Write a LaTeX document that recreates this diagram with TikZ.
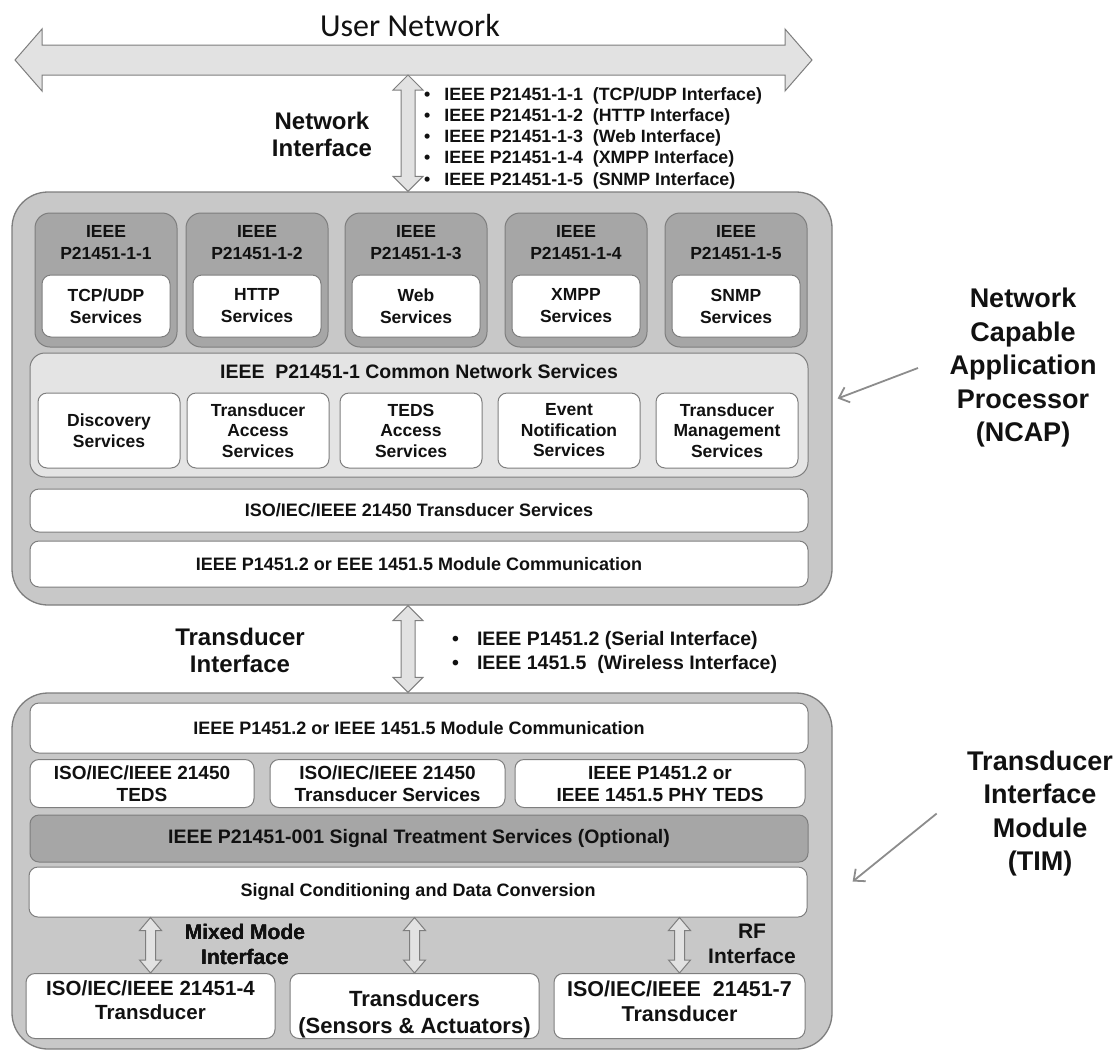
\documentclass[tikz,border=0pt]{standalone}
\usepackage{fontspec}
\setmainfont{Liberation Sans}
\newfontfamily\userfont{Carlito}
\usetikzlibrary{arrows.meta,calc}
\definecolor{ieeeink}{HTML}{111111}
\definecolor{ieeeedge}{HTML}{7E7E7E}
\definecolor{ieeeshell}{HTML}{C8C8C8}
\definecolor{ieeeproto}{HTML}{A6A6A6}
\definecolor{ieeecommon}{HTML}{E4E4E4}
\definecolor{ieeearrow}{HTML}{E2E2E2}
\definecolor{ieeepoint}{HTML}{8C8C8C}
% hollow block arrow, vertical: top, bottom, half shaft, half head, head length
\newcommand{\vfat}[5]{%
  \draw[fat] let \p1=(#1), \p2=(#2) in
    (\x1,\y1) -- (\x1+#4,\y1-#5) -- (\x1+#3,\y1-#5) -- (\x1+#3,\y2+#5)
    -- (\x1+#4,\y2+#5) -- (\x1,\y2) -- (\x1-#4,\y2+#5) -- (\x1-#3,\y2+#5)
    -- (\x1-#3,\y1-#5) -- (\x1-#4,\y1-#5) -- cycle;}
% same, horizontal: left, right, half shaft, half head, head length
\newcommand{\hfat}[5]{%
  \draw[fat] let \p1=(#1), \p2=(#2) in
    (\x1,\y1) -- (\x1+#5,\y1+#4) -- (\x1+#5,\y1+#3) -- (\x2-#5,\y1+#3)
    -- (\x2-#5,\y1+#4) -- (\x2,\y1) -- (\x2-#5,\y1-#4) -- (\x2-#5,\y1-#3)
    -- (\x1+#5,\y1-#3) -- (\x1+#5,\y1-#4) -- cycle;}

\begin{document}
\begin{tikzpicture}[
  x=1pt, y=-1pt, text=ieeeink,
  font=\bfseries,
  shell/.style={draw=ieeeedge, line width=1.3pt, fill=ieeeshell, rounded corners=36pt, minimum width=820pt},
  protobox/.style={draw=ieeeedge, line width=1pt, fill=ieeeproto, rounded corners=15pt, minimum width=142pt, minimum height=134pt},
  svcbox/.style={draw=ieeeedge, line width=1pt, fill=white, rounded corners=9pt, align=center,
    minimum width=128pt, minimum height=62pt, font=\bfseries\fontsize{17.5}{22}\selectfont},
  cnsbox/.style={svcbox, minimum width=142pt, minimum height=75pt, font=\bfseries\fontsize{17.5}{20.5}\selectfont},
  commonbox/.style={draw=ieeeedge, line width=1pt, fill=ieeecommon, rounded corners=15pt, minimum width=778pt, minimum height=124pt},
  bar/.style={draw=ieeeedge, line width=1pt, fill=white, rounded corners=9pt, align=center,
    minimum width=778pt, font=\bfseries\fontsize{18}{22}\selectfont},
  tile/.style={bar, minimum height=48pt, font=\bfseries\fontsize{19}{22}\selectfont},
  sensor/.style={bar, minimum height=65pt},
  sensortext/.style={align=center, font=\bfseries\fontsize{20.5}{24}\selectfont},
  fat/.style={draw=ieeeedge, line width=1pt, fill=ieeearrow, line join=miter},
  pointer/.style={draw=ieeepoint, line width=1.8pt, -{Straight Barb[length=9pt,width=16pt]}},
  title/.style={align=center, font=\bfseries\fontsize{17.5}{22}\selectfont},
  iflabel/.style={align=center, font=\bfseries\fontsize{24}{27}\selectfont},
  smallif/.style={align=center, font=\bfseries\fontsize{21}{25}\selectfont},
  bullets/.style={align=left, inner sep=0pt, anchor=west},
  side/.style={align=center, font=\bfseries\fontsize{27}{33.5}\selectfont},
]
  \useasboundingbox (0,0) rectangle (1115,1055);

  % user network
  \node[font=\userfont\mdseries\fontsize{32}{36}\selectfont] (usernet) at (410,26) {User Network};
  \coordinate (netL) at (15,60);
  \coordinate (netR) at (812,60);
  \hfat{netL}{netR}{15pt}{31pt}{27pt}
  \coordinate (spine) at (408,75);

  % NCAP
  \node[shell, minimum height=413pt] (ncap) at (422,398.5) {};
  \vfat{spine}{spine |- ncap.north}{7pt}{15pt}{15pt}
  \node[iflabel] (netif) at (322,134) {Network\\Interface};
  \node[bullets, font=\bfseries\fontsize{17.8}{21.2}\selectfont] (netlist) at (424,138)
    {\textbullet\hspace{14pt}IEEE P21451-1-1\ \ (TCP/UDP Interface)\\
     \textbullet\hspace{14pt}IEEE P21451-1-2\ \ (HTTP Interface)\\
     \textbullet\hspace{14pt}IEEE P21451-1-3\ \ (Web Interface)\\
     \textbullet\hspace{14pt}IEEE P21451-1-4\ \ (XMPP Interface)\\
     \textbullet\hspace{14pt}IEEE P21451-1-5\ \ (SNMP Interface)};

  \foreach \k/\x/\svc in {1/106/{TCP/UDP},2/257/HTTP,3/416/Web,4/576/XMPP,5/736/SNMP} {
    \node[protobox] (proto\k) at (\x,280) {};
    \node[title] (ptitle\k) at (\x,243) {IEEE\\P21451-1-\k};
    \node[svcbox] (svc\k) at (\x,306) {\svc\\Services};
  }

  \node[commonbox] (cns) at (419,415) {};
  \node[title, font=\bfseries\fontsize{19.5}{22}\selectfont] (cnstitle) at (419,372) {IEEE~~P21451-1 Common Network Services};
  \foreach \k/\x/\txt in {1/109/{Discovery\\Services},2/258/{Transducer\\Access\\Services},
      3/411/{TEDS\\Access\\Services},4/569/{Event\\Notification\\Services},5/727/{Transducer\\Management\\Services}} {
    \node[cnsbox] (cns\k) at (\x,430.5) {\txt};
  }

  \node[bar, minimum height=43pt] (tsvc) at (419,510.5) {ISO/IEC/IEEE 21450 Transducer Services};
  \node[bar, minimum height=46pt] (ncapcomm) at (419,564) {IEEE P1451.2 or EEE 1451.5 Module Communication};

  % TIM
  \node[shell, minimum height=356pt] (tim) at (422,871) {};
  \vfat{spine |- ncap.south}{spine |- tim.north}{7pt}{15pt}{15pt}
  \node[iflabel] (xdif) at (240,650) {Transducer\\Interface};
  \node[bullets, font=\bfseries\fontsize{19.5}{24}\selectfont] (xdlist) at (452,652)
    {\textbullet\hspace{18pt}IEEE P1451.2 (Serial Interface)\\
     \textbullet\hspace{18pt}IEEE 1451.5\ \ (Wireless Interface)};

  \node[bar, minimum height=50pt] (timcomm) at (419,728) {IEEE P1451.2 or IEEE 1451.5 Module Communication};
  \node[tile, minimum width=224pt] (teds) at (142,783.5) {ISO/IEC/IEEE 21450\\TEDS};
  \node[tile, minimum width=235pt] (tisvc) at (387.5,783.5) {ISO/IEC/IEEE 21450\\Transducer Services};
  \node[tile, minimum width=290pt] (phyteds) at (660,783.5) {IEEE P1451.2 or\\IEEE 1451.5 PHY TEDS};
  \node[bar, minimum height=47pt, fill=ieeeproto, font=\bfseries\fontsize{19.5}{22}\selectfont] (treat) at (419,838.5)
    {IEEE P21451-001 Signal Treatment Services (Optional)};
  \node[bar, minimum height=50pt] (sigcond) at (418,892) {Signal Conditioning and Data Conversion};

  \node[sensor, minimum width=249pt,
    label={[sensortext, yshift=5.5pt]center:ISO/IEC/IEEE 21451-4\\Transducer}] (xdcr4) at (150.5,1006) {};
  \node[sensor, minimum width=249pt,
    label={[sensortext, yshift=-8pt, font=\bfseries\fontsize{22}{27}\selectfont]center:Transducers\\(Sensors \& Actuators)}] (xdcrs) at (414.5,1006) {};
  \node[sensor, minimum width=251pt,
    label={[sensortext, yshift=5pt, font=\bfseries\fontsize{21.5}{25}\selectfont]center:ISO/IEC/IEEE~~21451-7\\Transducer}] (xdcr7) at (679.5,1006) {};
  \foreach \b in {xdcr4,xdcrs,xdcr7}
    \vfat{\b.north |- sigcond.south}{\b.north}{5pt}{11pt}{13pt}
  \node[smallif] (mixif) at (245,944) {Mixed Mode\\Interface};
  \node[smallif] (rfif) at (752,944) {RF\\Interface};

  % side captions
  \node[side] (ncaplbl) at (1023,368) {Network\\Capable\\Application\\Processor\\(NCAP)};
  \node[side] (timlbl) at (1040,813.5) {Transducer\\Interface\\Module\\(TIM)};
  \draw[pointer] ([xshift=-28pt]ncaplbl.west) -- ([xshift=5pt]ncap.east);
  \draw[pointer] ($(timlbl.west)+(-27,0)$) -- ($(tim.east)+(20,10.5)$);
\end{tikzpicture}
\end{document}
